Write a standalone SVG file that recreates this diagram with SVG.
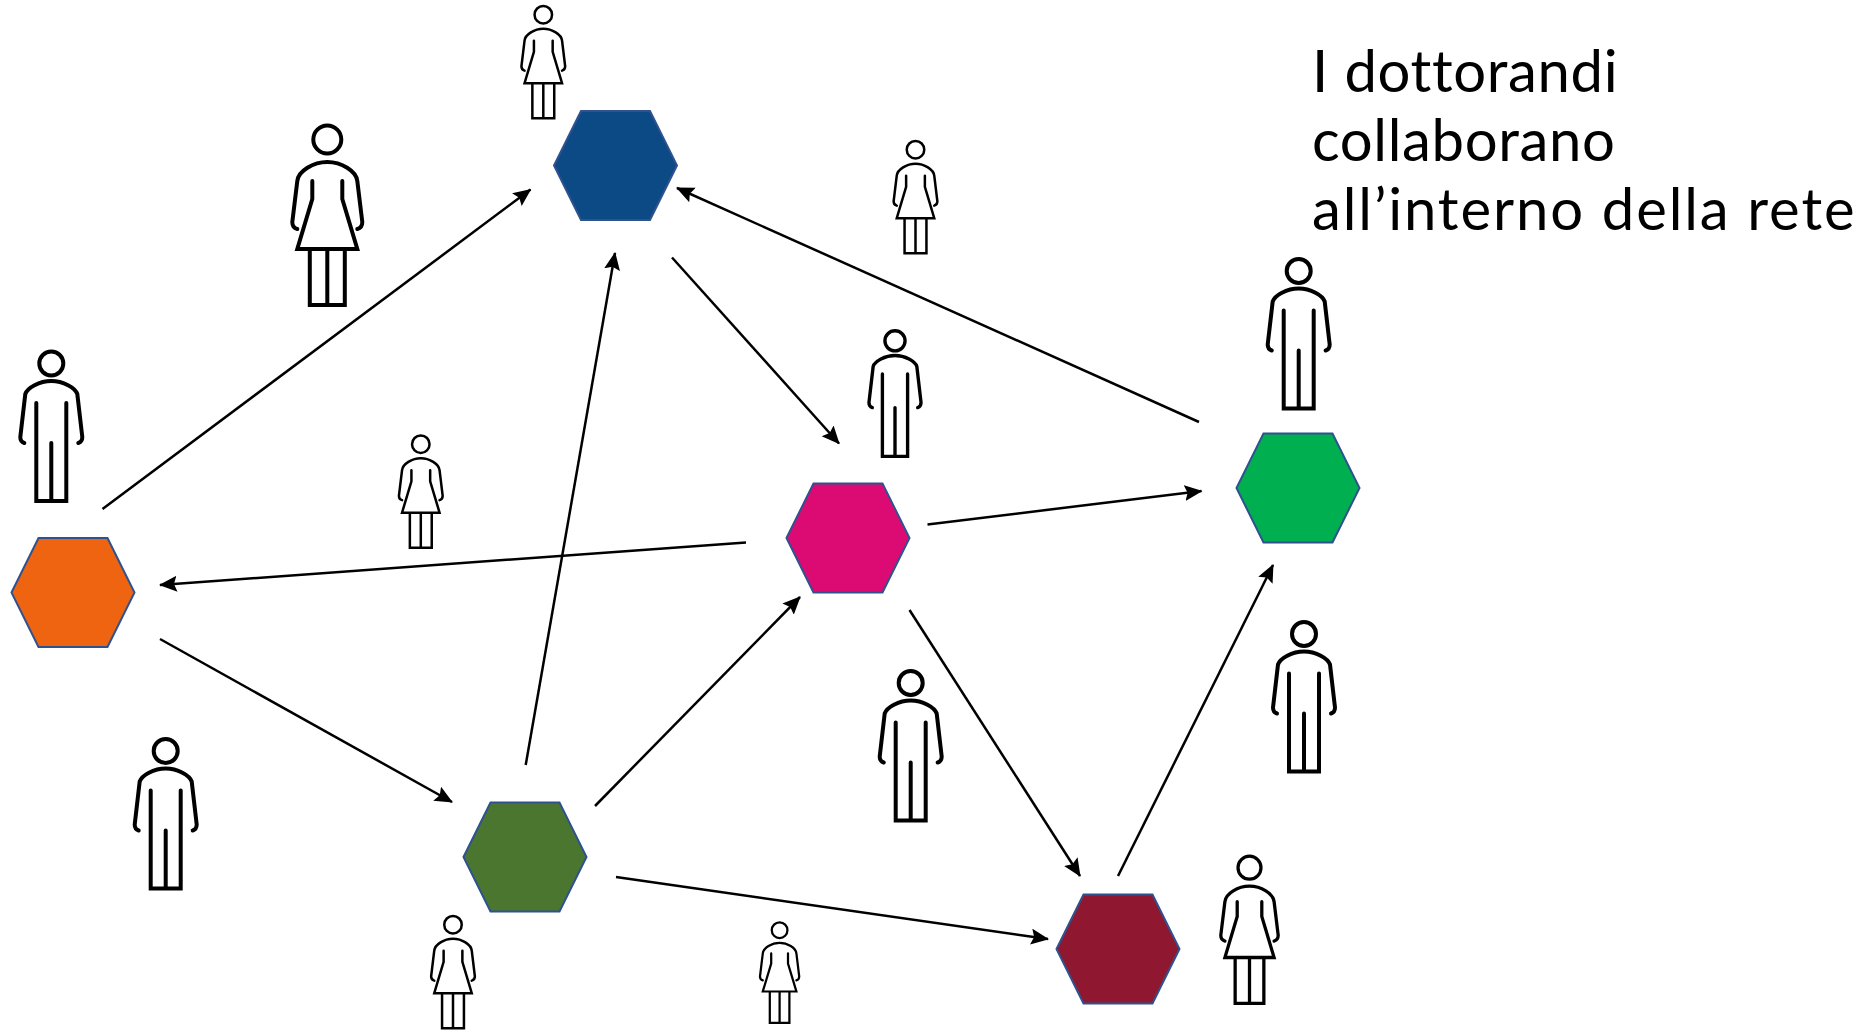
<svg xmlns="http://www.w3.org/2000/svg" width="1869" height="1030" viewBox="0 0 1869 1030">
<style>
.bg{fill:#fff}
.hex{stroke:#2F528F;stroke-width:2;stroke-linejoin:miter}
.p{fill:none;stroke:#000;stroke-width:4;stroke-linecap:round;stroke-linejoin:miter}
.c{stroke:#000;stroke-width:2.5;fill:none;marker-end:url(#ah)}
text{font-family:"Lato","Open Sans",sans-serif;font-size:58px;fill:#000;letter-spacing:.65px;font-variant-ligatures:none}
text.wide{letter-spacing:1.9px}
</style>
<defs>
<marker id="ah" markerUnits="userSpaceOnUse" markerWidth="20" markerHeight="18" refX="17" refY="8" orient="auto"><path d="M0 0L18 8L0 16L3 8Z" fill="#000"/></marker>
<polygon id="h" points="-61.500,0 -34.500,-54.500 34.500,-54.500 61.500,0 34.500,54.500 -34.500,54.500"/>
<g id="woman">
<circle cx="0" cy="15.500" r="14"/>
<path d="M-30 105C-34 104-35 101-35 98L-30 57C-29 47-14 38 0 38C14 38 29 47 30 57L35 98C35 101 34 104 30 105"/>
<path d="M-15 57V75L-30 125H30L15 75V57"/>
<path d="M-17.500 125V181H17.500V125M0 125V181" stroke-linecap="butt"/>
</g>
<g id="man">
<circle cx="0" cy="13.500" r="12"/>
<path d="M-27 93C-30 92-31 90-31 87L-26 44C-24 38-12 31 0 31C12 31 24 38 26 44L31 87C31 90 30 92 27 93"/>
<path d="M-15 53V151H15V53M0 93V151"/>
</g>
</defs>
<rect class="bg" width="1869" height="1030"/>
<g id="connectors">
<line class="c" x1="102.500" y1="509" x2="530.500" y2="189.500"/>
<line class="c" x1="672" y1="257.500" x2="839" y2="443.500"/>
<line class="c" x1="1199" y1="422" x2="677" y2="188"/>
<line class="c" x1="927.500" y1="524.500" x2="1201.500" y2="491"/>
<line class="c" x1="746" y1="542.500" x2="160" y2="585"/>
<line class="c" x1="160" y1="639" x2="452" y2="802"/>
<line class="c" x1="525.700" y1="765" x2="615" y2="253"/>
<line class="c" x1="595" y1="806" x2="800" y2="597"/>
<line class="c" x1="909.500" y1="610" x2="1080" y2="876"/>
<line class="c" x1="616" y1="877" x2="1048" y2="939"/>
<line class="c" x1="1118" y1="876" x2="1273" y2="565"/>
</g>
<g id="node-orange"><use href="#h" class="hex" fill="#EE6411" transform="translate(73 592.500)"/></g>
<g id="node-blue"><use href="#h" class="hex" fill="#0B4A85" transform="translate(615.500 165.500)"/></g>
<g id="node-magenta"><use href="#h" class="hex" fill="#DC0A73" transform="translate(848 538)"/></g>
<g id="node-green"><use href="#h" class="hex" fill="#00B050" transform="translate(1298 488)"/></g>
<g id="node-darkgreen"><use href="#h" class="hex" fill="#4A7630" transform="translate(525 857)"/></g>
<g id="node-maroon"><use href="#h" class="hex" fill="#8F1830" transform="translate(1118 949)"/></g>
<g id="people" class="p">
<use href="#woman" transform="translate(327.300 124)"/>
<use href="#woman" transform="translate(543.300 5) scale(.625)"/>
<use href="#woman" transform="translate(915.500 140) scale(.625)"/>
<use href="#woman" transform="translate(420.800 434.500) scale(.625)"/>
<use href="#woman" transform="translate(453 915) scale(.625)"/>
<use href="#woman" transform="translate(779.600 921.500) scale(.56)"/>
<use href="#woman" transform="translate(1249.500 855) scale(.82)"/>
<use href="#man" transform="translate(1298.700 257.500)"/>
<use href="#man" transform="translate(51.300 350)"/>
<use href="#man" transform="translate(895 329.500) scale(.84)"/>
<use href="#man" transform="translate(165.700 737.500)"/>
<use href="#man" transform="translate(910.700 669.500)"/>
<use href="#man" transform="translate(1304 620.500)"/>
</g>
<g id="caption">
<text x="1312" y="92">I dottorandi</text>
<text x="1312" y="161">collaborano</text>
<text class="wide" x="1312" y="230">all’interno della rete</text>
</g>
</svg>
